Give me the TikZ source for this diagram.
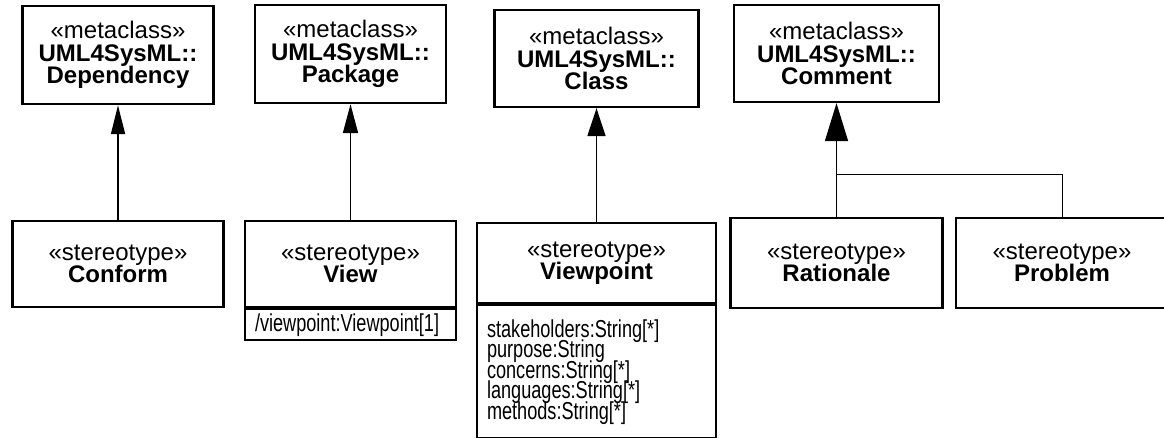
\documentclass[tikz,border=0pt]{standalone}
\usepackage{fontspec}
\setmainfont{Liberation Sans}
\newfontfamily\narrowfont[FakeStretch=0.74]{Liberation Sans}
\newcommand\tightlines{\lineskiplimit=-100pt\relax}
\usetikzlibrary{arrows.meta}
\begin{document}
\begin{tikzpicture}[x=1pt,y=-1pt,
  box/.style={draw, line width=2.3pt, rectangle, inner sep=0pt, align=center,
    font=\fontsize{24}{22.5}\selectfont\tightlines},
  attr/.style={draw, line width=2.3pt, rectangle, inner xsep=10pt, inner ysep=0pt,
    align=left, anchor=north west,
    font=\narrowfont\fontsize{24.5}{20.5}\selectfont\tightlines},
  gen/.style={line width=1.6pt},
  branch/.style={line width=1pt}]
\useasboundingbox (0,0) rectangle (1164,437);

% metaclasses
\node[box, minimum width=191pt, minimum height=98pt] (dep) at (118,55)
  {«metaclass»\\\textbf{UML4SysML::}\\\textbf{Dependency}};
\node[box, minimum width=191pt, minimum height=98pt] (pkg) at (350.5,54)
  {«metaclass»\\\textbf{UML4SysML::}\\\textbf{Package}};
\node[box, minimum width=204pt, minimum height=97pt] (cls) at (596.5,58.5)
  {«metaclass»\\\textbf{UML4SysML::}\\\textbf{Class}};
\node[box, minimum width=205pt, minimum height=97pt] (cmt) at (836.5,53.5)
  {«metaclass»\\\textbf{UML4SysML::}\\\textbf{Comment}};

% stereotypes
\node[box, minimum width=211pt, minimum height=86pt] (conform) at (118,264)
  {«stereotype»\\\textbf{Conform}};
\node[box, minimum width=211pt, minimum height=86pt] (view) at (350.5,264)
  {«stereotype»\\\textbf{View}};
\node[attr, minimum width=211pt, minimum height=31pt, text width=191pt] (viewattr)
  at (view.south west) {/viewpoint:Viewpoint[1]};
\node[box, minimum width=239pt, minimum height=80pt] (vp) at (596.5,263)
  {«stereotype»\\\textbf{Viewpoint}};
\node[attr, minimum width=239pt, minimum height=133pt, text width=219pt] (vpattr)
  at (vp.south west) {stakeholders:String[*]\\purpose:String\\concerns:String[*]\\languages:String[*]\\methods:String[*]};
\node[box, minimum width=212pt, minimum height=90pt] (rat) at (836.5,263)
  {«stereotype»\\\textbf{Rationale}};
\node[box, minimum width=212pt, minimum height=90pt] (prob) at (1062,263)
  {«stereotype»\\\textbf{Problem}};

% generalizations
\draw[gen, -{Triangle[length=29pt,width=14pt]}] (conform.north) -- (dep.south);
\draw[gen, -{Triangle[length=29pt,width=15pt]}] (view.north) -- (pkg.south);
\draw[gen, -{Triangle[length=28pt,width=18pt]}] (vp.north) -- (cls.south);
\coordinate (j) at (836.5,174);
\draw[branch] (rat.north) -- (j);
\draw[branch] (prob.north) |- (j);
\draw[gen, -{Triangle[length=38pt,width=23pt]}] (j) -- (cmt.south);
\end{tikzpicture}
\end{document}
